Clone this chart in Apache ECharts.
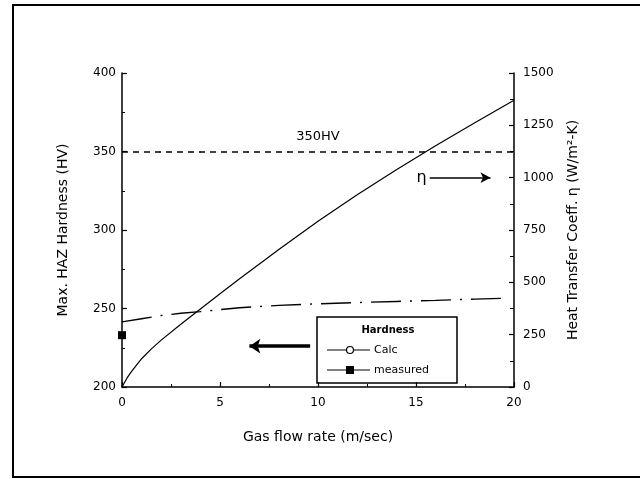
<!DOCTYPE html>
<html>
<head>
<meta charset="utf-8">
<script src="https://cdn.jsdelivr.net/npm/echarts@6/dist/echarts.min.js"></script>
<style>
  html, body { margin: 0; padding: 0; background: #fff; }
  #chart { width: 640px; height: 479px; }
</style>
</head>
<body>
<div id="chart"></div>
<script>
// heat transfer coefficient (right axis)
const flowRate = [0, 0.25, 0.5, 1, 1.5, 2, 3, 4, 5, 6, 8, 10, 12, 14, 16, 18, 20];
const heatCoeff = [0, 42, 76, 135, 182, 224, 300, 373, 445, 517, 657, 792, 918, 1038, 1152, 1262, 1370];

// calculated hardness (left axis)
const calcRate = [0, 1, 2, 3, 4, 6, 8, 10, 12, 14, 16, 18, 19.5];
const calcHardness = [241.5, 243.5, 245.5, 247, 248, 250.5, 252, 253, 253.8, 254.5, 255.2, 256, 256.5];

// measured hardness
const measuredRate = [0];
const measuredHardness = [233];

const limitHV = 350;
const xTicks = [0, 5, 10, 15, 20];

const font = "DejaVu Sans";
const plain = (v) => String(v);

const chart = echarts.init(document.getElementById("chart"));

const tickStyle = { color: "#000", width: 1.2 };

const option = {
  animation: false,
  backgroundColor: "#fff",
  textStyle: { fontFamily: font, color: "#000" },
  grid: { left: 122, right: 126, top: 73, bottom: 92 },
  xAxis: {
    type: "value",
    min: xTicks[0],
    max: xTicks[xTicks.length - 1],
    interval: 5,
    name: "Gas flow rate (m/sec)",
    nameLocation: "middle",
    nameGap: 43,
    nameTextStyle: { fontSize: 14, color: "#000", fontFamily: font },
    axisLine: { lineStyle: { color: "#000", width: 1.5 } },
    axisTick: { inside: true, length: 5, lineStyle: tickStyle },
    minorTick: { show: true, splitNumber: 2, length: 3, lineStyle: { color: "#000" } },
    axisLabel: { fontSize: 12, color: "#000", margin: 10, formatter: plain, fontFamily: font },
    splitLine: { show: false },
  },
  yAxis: [
    {
      type: "value",
      min: 200,
      max: 400,
      interval: 50,
      name: "Max. HAZ Hardness (HV)",
      nameLocation: "middle",
      nameRotate: 90,
      nameGap: 52,
      nameTextStyle: { fontSize: 14, color: "#000", fontFamily: font },
      axisLine: { show: true, lineStyle: { color: "#000", width: 1.5 } },
      axisTick: { show: true, inside: true, length: 5, lineStyle: tickStyle },
      minorTick: { show: true, splitNumber: 2, length: 3, lineStyle: { color: "#000" } },
      axisLabel: { fontSize: 12, color: "#000", margin: 6, formatter: plain, fontFamily: font },
      splitLine: { show: false },
    },
    {
      type: "value",
      min: 0,
      max: 1500,
      interval: 250,
      position: "right",
      name: "Heat Transfer Coeff. η (W/m²-K)",
      nameLocation: "middle",
      nameRotate: 90,
      nameGap: 52,
      nameTextStyle: { fontSize: 14, color: "#000", fontFamily: font },
      axisLine: { show: true, lineStyle: { color: "#000", width: 1.5 } },
      axisTick: { show: true, inside: true, length: 5, lineStyle: tickStyle },
      minorTick: { show: true, splitNumber: 2, length: 4, lineStyle: { color: "#000" } },
      axisLabel: { fontSize: 12, color: "#000", margin: 9, formatter: plain, fontFamily: font },
      splitLine: { show: false },
    },
  ],
  series: [
    {
      name: "h",
      type: "line",
      yAxisIndex: 1,
      data: flowRate.map((v, i) => [v, heatCoeff[i]]),
      showSymbol: false,
      lineStyle: { color: "#000", width: 1.2 },
      markLine: {
        silent: true,
        symbol: ["none", "arrow"],
        symbolSize: [8, 10],
        lineStyle: { color: "#000", width: 1.5, type: "solid" },
        label: {
          show: true,
          position: "start",
          formatter: "η",
          fontSize: 16,
          color: "#000",
          distance: 3,
        },
        data: [[{ coord: [15.7, 1000] }, { coord: [18.8, 1000] }]],
      },
    },
    {
      name: "Calc",
      type: "line",
      yAxisIndex: 0,
      data: calcRate.map((v, i) => [v, calcHardness[i]]),
      showSymbol: false,
      itemStyle: { color: "#000" },
      lineStyle: { color: "#000", width: 1.4, type: [30, 9, 2, 9] },
      markLine: {
        silent: true,
        symbol: ["none", "none"],
        lineStyle: { color: "#000", width: 1.5, type: [6, 5] },
        label: {
          show: true,
          position: "middle",
          formatter: "350HV",
          fontSize: 13,
          color: "#000",
          fontFamily: font,
          distance: 8,
        },
        data: [{ yAxis: limitHV }],
      },
    },
    {
      name: "measured",
      type: "line",
      yAxisIndex: 0,
      data: measuredRate.map((v, i) => [v, measuredHardness[i]]),
      symbol: "rect",
      symbolSize: 8,
      clip: false,
      itemStyle: { color: "#000" },
      lineStyle: { color: "#000", width: 1 },
      markLine: {
        silent: true,
        symbol: ["none", "arrow"],
        symbolSize: [11, 11],
        lineStyle: { color: "#000", width: 3.5, type: "solid" },
        label: { show: false },
        data: [[{ coord: [9.6, 226] }, { coord: [6.5, 226] }]],
      },
    },
  ],
  graphic: [
    {
      // outer frame
      type: "rect",
      shape: { x: 13, y: 5, width: 640, height: 472 },
      style: { fill: "none", stroke: "#000", lineWidth: 2 },
      silent: true,
    },
    {
      // legend box
      type: "group",
      silent: true,
      children: [
        {
          type: "rect",
          shape: { x: 317, y: 317, width: 140, height: 66 },
          style: { fill: "#fff", stroke: "#000", lineWidth: 1.5 },
        },
        {
          type: "text",
          x: 388,
          y: 330,
          style: { text: "Hardness", fontSize: 10, fontWeight: "bold", fill: "#000", fontFamily: font, align: "center", verticalAlign: "middle" },
        },
        { type: "line", shape: { x1: 327, y1: 350, x2: 370, y2: 350 }, style: { stroke: "#000", lineWidth: 1 } },
        { type: "circle", shape: { cx: 350, cy: 350, r: 3.5 }, style: { fill: "#fff", stroke: "#000", lineWidth: 1.2 } },
        {
          type: "text",
          x: 374,
          y: 350,
          style: { text: "Calc", fontSize: 11, fill: "#000", fontFamily: font, verticalAlign: "middle" },
        },
        { type: "line", shape: { x1: 327, y1: 370, x2: 370, y2: 370 }, style: { stroke: "#000", lineWidth: 1 } },
        { type: "rect", shape: { x: 346, y: 366, width: 8, height: 8 }, style: { fill: "#000" } },
        {
          type: "text",
          x: 374,
          y: 370,
          style: { text: "measured", fontSize: 11, fill: "#000", fontFamily: font, verticalAlign: "middle" },
        },
      ],
    },
  ],
};

chart.setOption(option);
</script>
</body>
</html>
